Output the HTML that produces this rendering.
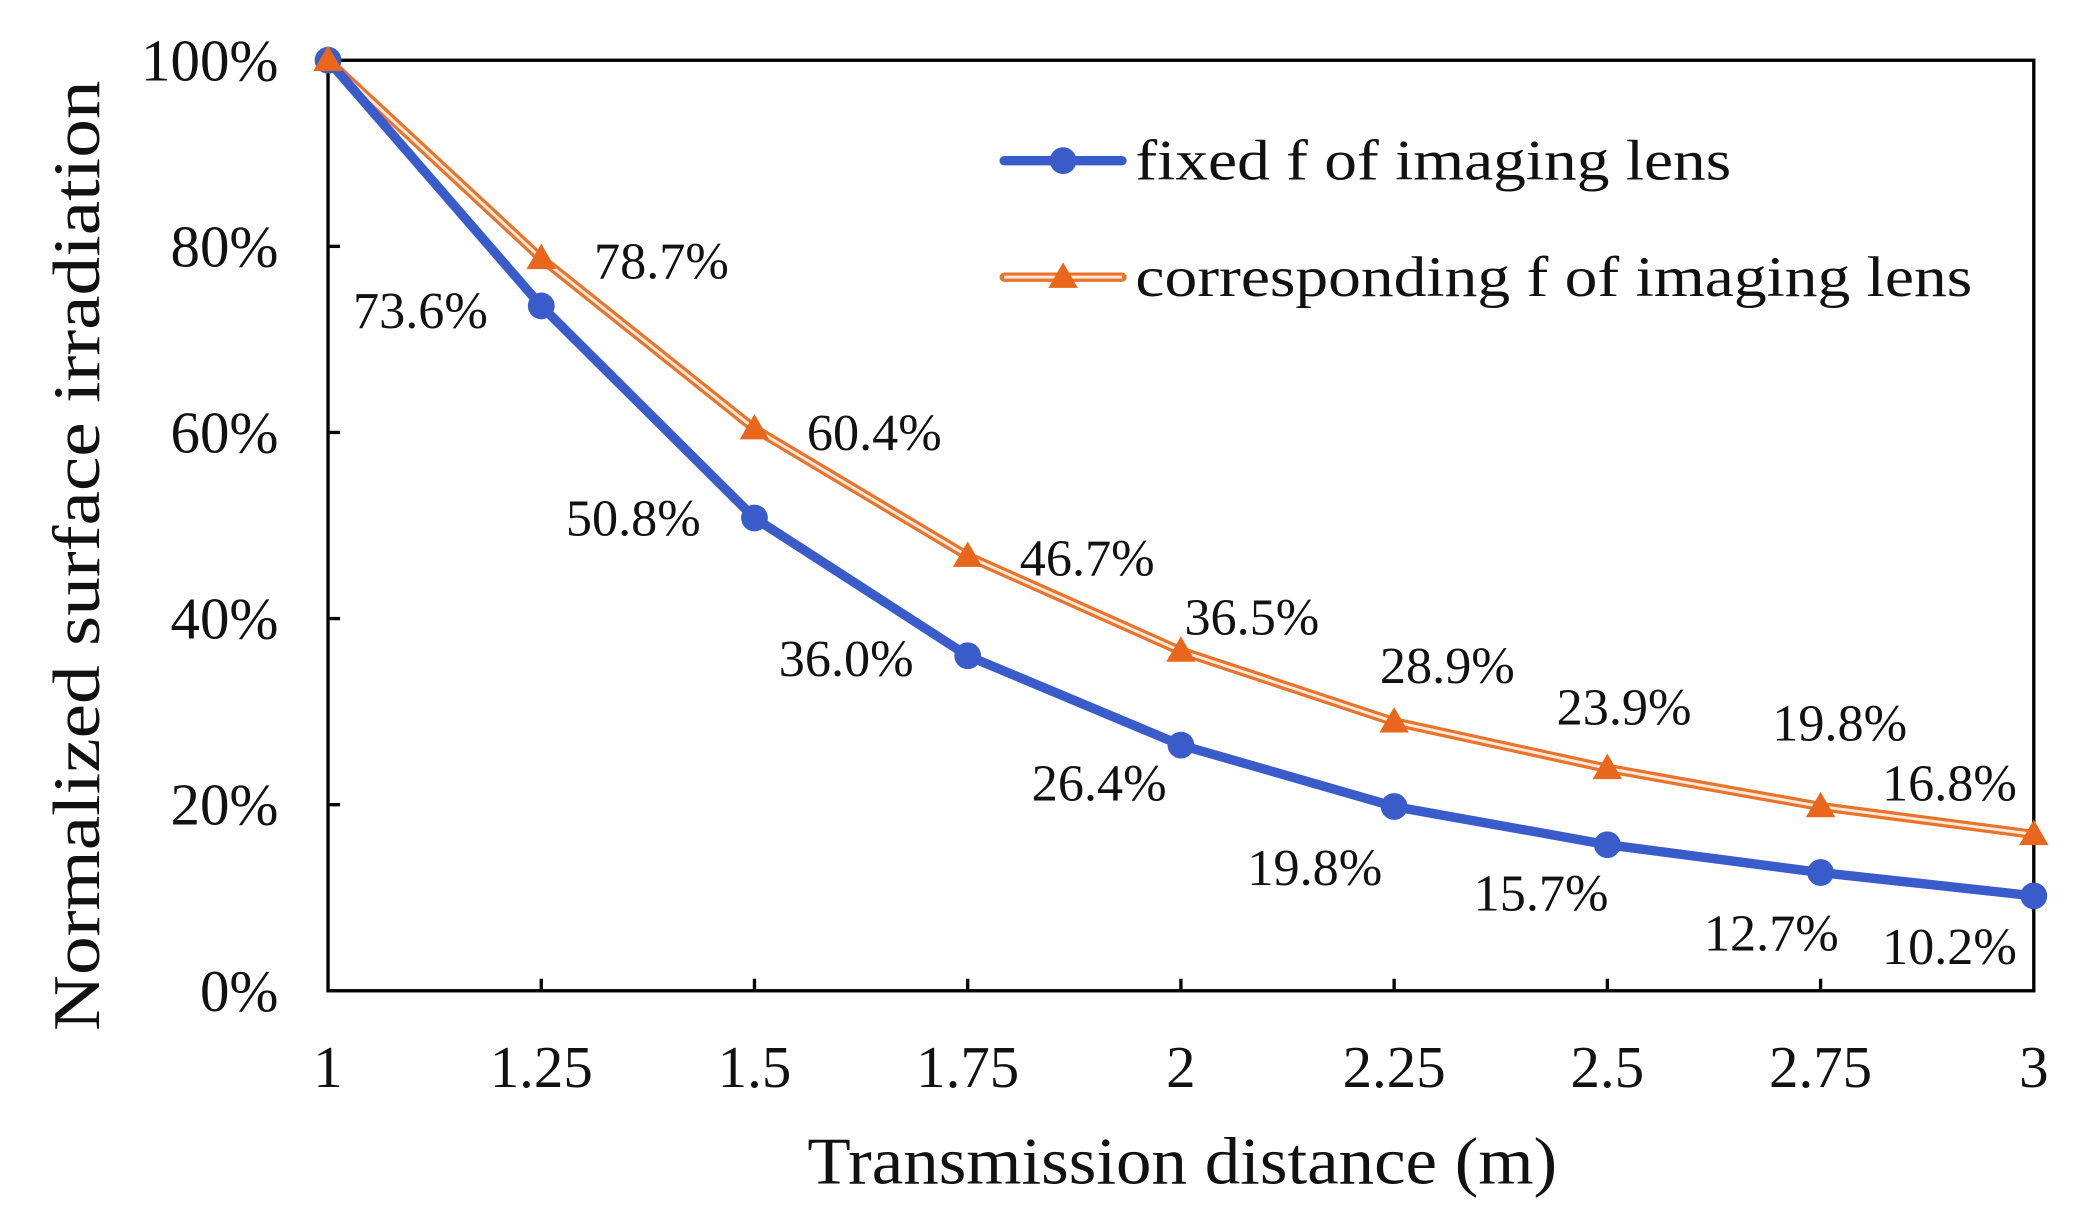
<!DOCTYPE html>
<html><head><meta charset="utf-8"><style>
html,body{margin:0;padding:0;background:#fff;}
svg{display:block;}
text{font-family:"Liberation Serif",serif;fill:#111;}
</style></head><body>
<svg width="2082" height="1222" viewBox="0 0 1555 912.7" preserveAspectRatio="none" xmlns="http://www.w3.org/2000/svg">
<rect x="0" y="0" width="1555" height="913" fill="#fff"/>
<rect x="245" y="45" width="1274" height="695" fill="none" stroke="#000" stroke-width="2.5"/>
<g stroke="#000" stroke-width="2.5">
<line x1="245" y1="184" x2="254" y2="184"/><line x1="245" y1="323" x2="254" y2="323"/>
<line x1="245" y1="462" x2="254" y2="462"/><line x1="245" y1="601" x2="254" y2="601"/>
<line x1="404.25" y1="740" x2="404.25" y2="731"/><line x1="563.5" y1="740" x2="563.5" y2="731"/>
<line x1="722.75" y1="740" x2="722.75" y2="731"/><line x1="882" y1="740" x2="882" y2="731"/>
<line x1="1041.25" y1="740" x2="1041.25" y2="731"/><line x1="1200.5" y1="740" x2="1200.5" y2="731"/>
<line x1="1359.75" y1="740" x2="1359.75" y2="731"/>
</g>
<g font-size="44" text-anchor="end">
<text x="208" y="60">100%</text><text x="208" y="199">80%</text><text x="208" y="338">60%</text>
<text x="208" y="477">40%</text><text x="208" y="616">20%</text><text x="208" y="755">0%</text>
</g>
<g font-size="44" text-anchor="middle">
<text x="245" y="812">1</text><text x="404.25" y="812">1.25</text><text x="563.5" y="812">1.5</text>
<text x="722.75" y="812">1.75</text><text x="882" y="812">2</text><text x="1041.25" y="812">2.25</text>
<text x="1200.5" y="812">2.5</text><text x="1359.75" y="812">2.75</text><text x="1519" y="812">3</text>
</g>
<text x="603" y="884" font-size="50" textLength="560" lengthAdjust="spacingAndGlyphs">Transmission distance (m)</text>
<text transform="translate(74,770) rotate(-90)" font-size="50" textLength="710" lengthAdjust="spacingAndGlyphs">Normalized surface irradiation</text>
<polyline points="245,45 404.25,193 563.5,320.2 722.75,415.4 882,486.3 1041.25,539.1 1200.5,573.9 1359.75,602.4 1519,623.2" fill="none" stroke="#e8742c" stroke-width="7" stroke-linejoin="round"/>
<polyline points="245,45 404.25,193 563.5,320.2 722.75,415.4 882,486.3 1041.25,539.1 1200.5,573.9 1359.75,602.4 1519,623.2" fill="none" stroke="#fde8da" stroke-width="2.2" stroke-linejoin="round"/>
<polyline points="245,45 404.25,228.5 563.5,386.9 722.75,489.8 882,556.5 1041.25,602.4 1200.5,630.9 1359.75,651.7 1519,669.1" fill="none" stroke="#3a5ccb" stroke-width="7" stroke-linejoin="round"/>
<g fill="#3a5ccb">
<circle cx="245" cy="45" r="10"/><circle cx="404.25" cy="228.5" r="10"/><circle cx="563.5" cy="386.9" r="10"/>
<circle cx="722.75" cy="489.8" r="10"/><circle cx="882" cy="556.5" r="10"/><circle cx="1041.25" cy="602.4" r="10"/>
<circle cx="1200.5" cy="630.9" r="10"/><circle cx="1359.75" cy="651.7" r="10"/><circle cx="1519" cy="669.1" r="10"/>
</g>
<g fill="#e8671c">
<path d="M245,34 L256,53 L234,53Z"/>
<path d="M404.25,182 L415.25,201 L393.25,201Z"/>
<path d="M563.5,309.2 L574.5,328.2 L552.5,328.2Z"/>
<path d="M722.75,404.4 L733.75,423.4 L711.75,423.4Z"/>
<path d="M882,475.3 L893,494.3 L871,494.3Z"/>
<path d="M1041.25,528.1 L1052.25,547.1 L1030.25,547.1Z"/>
<path d="M1200.5,562.9 L1211.5,581.9 L1189.5,581.9Z"/>
<path d="M1359.75,591.4 L1370.75,610.4 L1348.75,610.4Z"/>
<path d="M1519,612.2 L1530,631.2 L1508,631.2Z"/>
</g>
<g font-size="39" text-anchor="middle">
<text x="314" y="245">73.6%</text>
<text x="494" y="208">78.7%</text>
<text x="653" y="336">60.4%</text>
<text x="473" y="400">50.8%</text>
<text x="812" y="430">46.7%</text>
<text x="632" y="505">36.0%</text>
<text x="935" y="474">36.5%</text>
<text x="821" y="598">26.4%</text>
<text x="1081" y="510">28.9%</text>
<text x="982" y="661">19.8%</text>
<text x="1213" y="541">23.9%</text>
<text x="1151" y="680">15.7%</text>
<text x="1374" y="553">19.8%</text>
<text x="1323" y="710">12.7%</text>
<text x="1456" y="598">16.8%</text>
<text x="1456" y="720">10.2%</text>
</g>
<line x1="750" y1="120" x2="838" y2="120" stroke="#3a5ccb" stroke-width="7" stroke-linecap="round"/>
<circle cx="794" cy="120" r="10" fill="#3a5ccb"/>
<text x="848" y="134" font-size="43" textLength="445" lengthAdjust="spacingAndGlyphs">fixed f of imaging lens</text>
<line x1="750" y1="207" x2="838" y2="207" stroke="#e8742c" stroke-width="7" stroke-linecap="round"/>
<line x1="750" y1="207" x2="838" y2="207" stroke="#fde8da" stroke-width="2.2"/>
<path d="M794,196 L805,215 L783,215Z" fill="#e8671c"/>
<text x="848" y="221" font-size="43" textLength="625" lengthAdjust="spacingAndGlyphs">corresponding f of imaging lens</text>
</svg>
</body></html>
